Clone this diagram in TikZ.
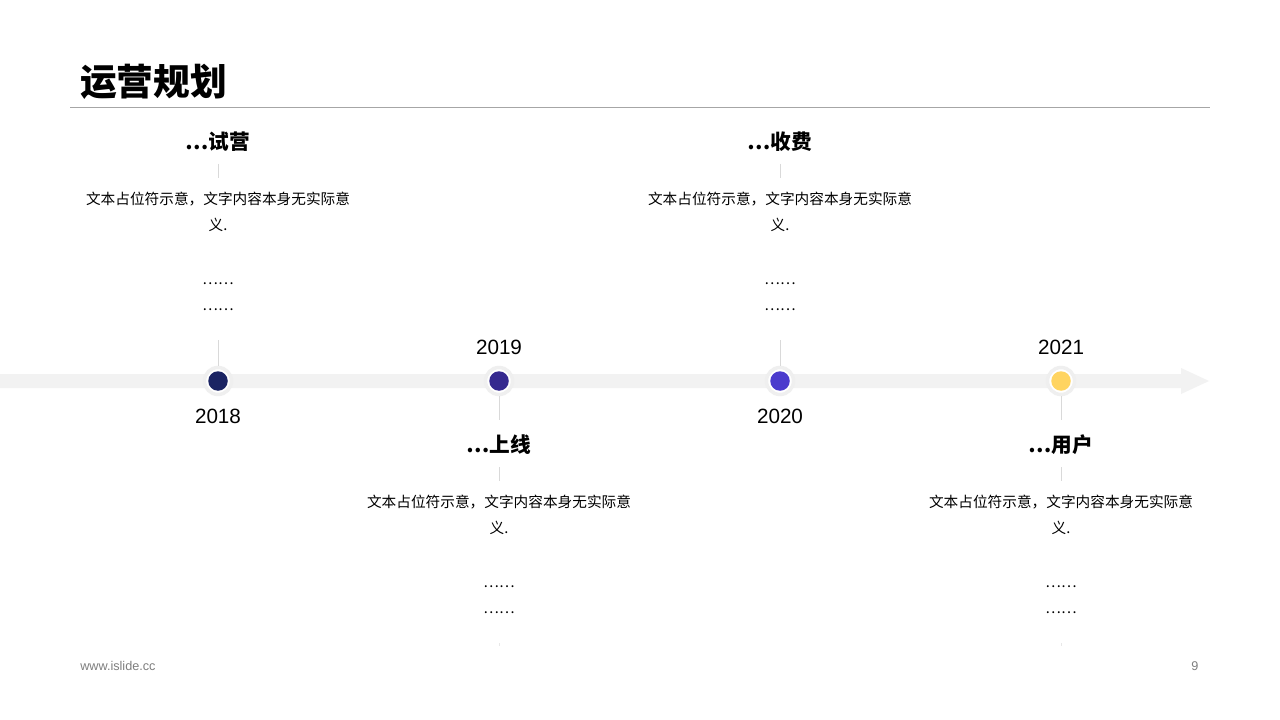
\documentclass[tikz,border=0pt]{standalone}
\usepackage{fontspec}
\setmainfont{Liberation Sans}
\newfontfamily\cjk{Noto Sans CJK SC}
\definecolor{barc}{HTML}{F2F2F2}
\definecolor{ringc}{HTML}{EFEFEF}
\definecolor{linec}{HTML}{D9D9D9}
\definecolor{rulec}{HTML}{A6A6A6}
\definecolor{cA}{HTML}{1B2463}
\definecolor{cB}{HTML}{35298F}
\definecolor{cC}{HTML}{4B3BCD}
\definecolor{cD}{HTML}{FFD460}
\definecolor{footc}{HTML}{7F7F7F}
\begin{document}
\begin{tikzpicture}[x=0.75pt,y=-0.75pt,
  title/.style={font=\cjk\bfseries\fontsize{27.5pt}{30pt}\selectfont, anchor=west, inner sep=0},
  head/.style={font=\cjk\bfseries\fontsize{15.5pt}{18pt}\selectfont, inner sep=0},
  body/.style={font=\cjk\fontsize{11pt}{13pt}\selectfont, inner sep=0},
  year/.style={font=\fontsize{15.5pt}{18pt}\selectfont, inner sep=0},
  conn/.style={draw=linec, line width=0.75pt},
  ring/.style={circle, fill=white, draw=ringc, line width=2.6pt, minimum size=27*0.75pt, inner sep=0},
  dotc/.style={circle, minimum size=19.5*0.75pt, inner sep=0},
  foot/.style={font=\fontsize{9.5pt}{11pt}\selectfont, text=footc, inner sep=0}]
\useasboundingbox (0,0) rectangle (1280,720);
\fill[white] (0,0) rectangle (1280,720);
% title
\node[title] (title) at (80,82) {运营规划};
\coordinate (ruleL) at (70,108);
\coordinate (ruleR) at (1210,108);
\draw[rulec, line width=0.75pt] (ruleL) -- (ruleR);
% timeline bar with arrow
\fill[barc] (0,374) -- (1181,374) -- (1181,368) -- (1209,381) -- (1181,394) -- (1181,388) -- (0,388) -- cycle;
% milestones
\foreach \n/\x/\top/\col/\yr/\hd in {a/218/1/cA/2018/试营, b/499/0/cB/2019/上线, c/780/1/cC/2020/收费, d/1061/0/cD/2021/用户}{
  \node[ring] (r\n) at (\x,381) {};
  \node[dotc, fill=\col] (d\n) at (\x,381) {};
  \ifnum\top=1
    \pgfmathsetmacro{\off}{0}
    \node[year] (y\n) at (\x,416) {\yr};
    \coordinate (ct\n) at (\x,340);
    \draw[conn] (ct\n) -- (r\n.north);
  \else
    \pgfmathsetmacro{\off}{303}
    \node[year] (y\n) at (\x,347) {\yr};
    \coordinate (cb\n) at (\x,420);
    \draw[conn] (r\n.south) -- (cb\n);
    \coordinate (m1\n) at (\x,643);
    \coordinate (m2\n) at (\x,646);
    \draw[conn, draw=linec!60] (m1\n) -- (m2\n);
  \fi
  \node[head] (h\n) at (\x,142+\off) {…\hd};
  \coordinate (s1\n) at (\x,164+\off);
  \coordinate (s2\n) at (\x,178+\off);
  \draw[conn] (s1\n) -- (s2\n);
  \node[body] (t1\n) at (\x,199+\off) {文本占位符示意，文字内容本身无实际意};
  \node[body] (t2\n) at (\x,225+\off) {义.};
  \node[body] (e1\n) at (\x,284+\off) {……};
  \node[body] (e2\n) at (\x,310+\off) {……};
}
% footer
\node[foot, anchor=west] (site) at (80,666) {www.islide.cc};
\node[foot] (page) at (1195,666) {9};
\end{tikzpicture}
\end{document}
